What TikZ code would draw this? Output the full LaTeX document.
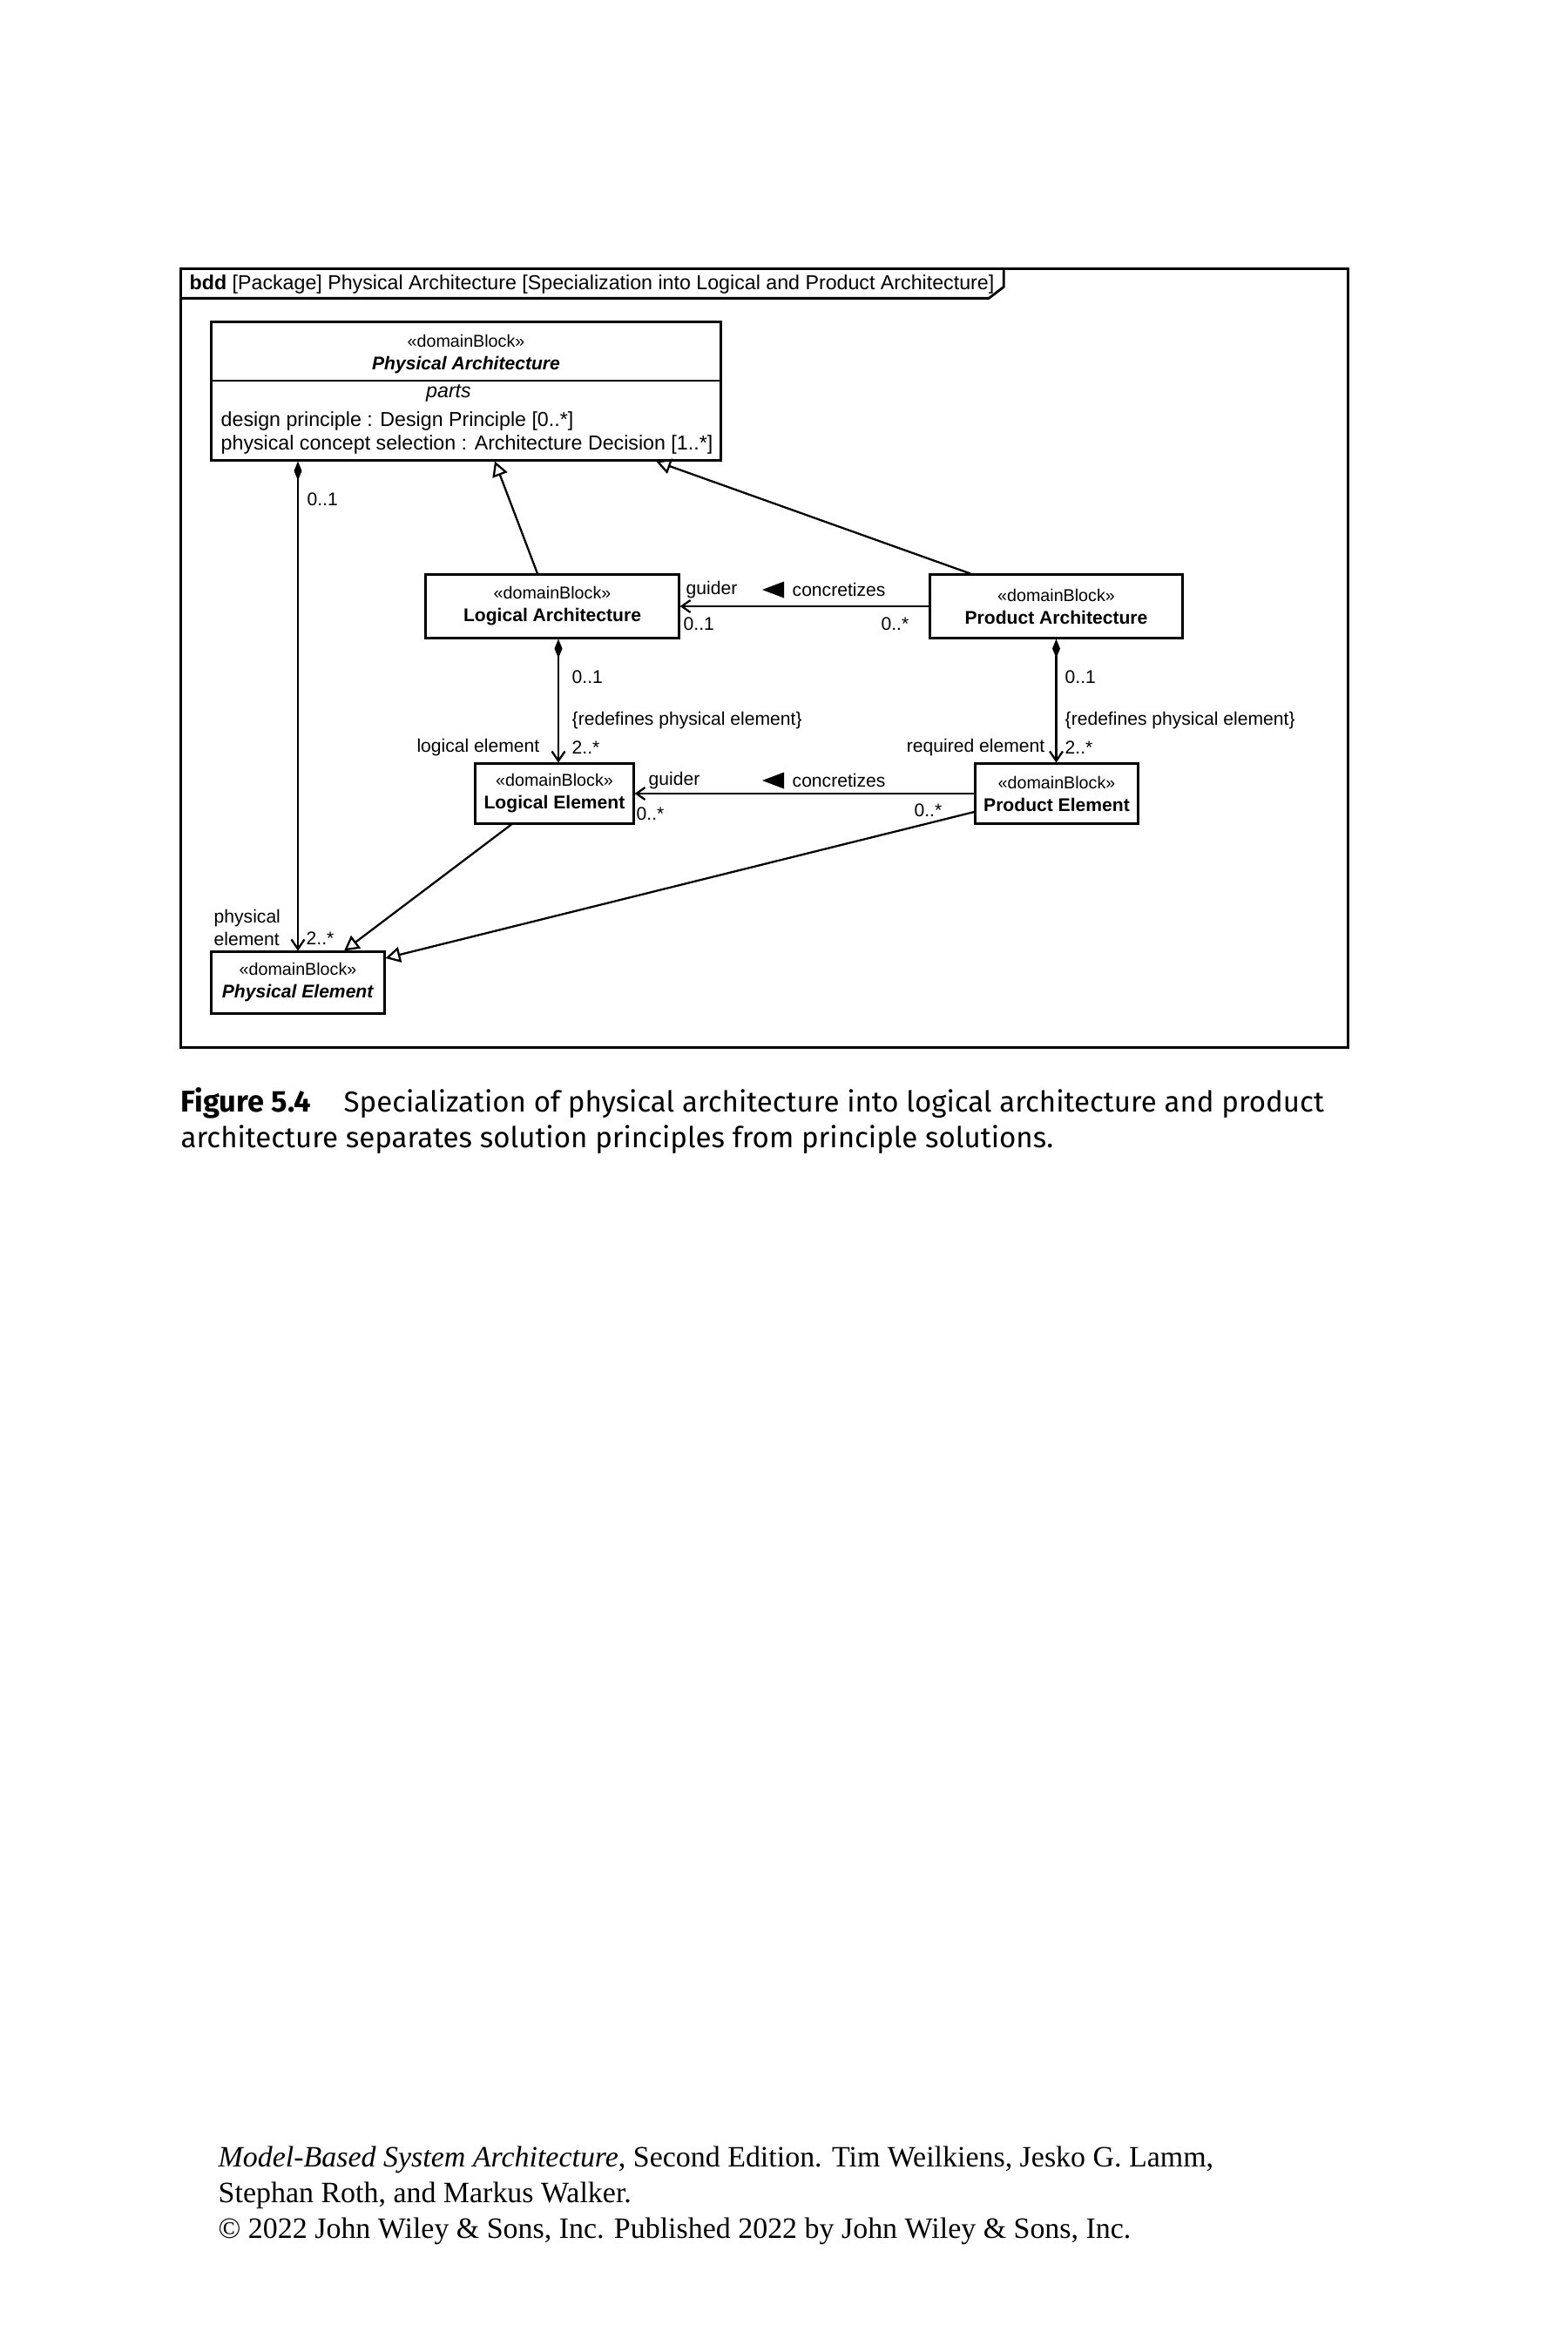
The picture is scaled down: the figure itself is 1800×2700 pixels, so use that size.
\documentclass[tikz,border=0pt]{standalone}
\usepackage{fontspec}
\setmainfont{Liberation Sans}
\newfontfamily\capfont{Fira Sans}
\newfontfamily\bookfont{Liberation Serif}
\usetikzlibrary{arrows.meta, positioning, calc}
\newcommand{\stereo}{{\fontsize{5.6}{7.4}\selectfont «domainBlock»}}

\begin{document}
\begin{tikzpicture}[
      x=0.01cm, y=-0.01cm,
      block/.style={draw, line width=0.85pt, align=center, inner sep=0pt,
                    font=\fontsize{6}{7.4}\selectfont},
      lbl/.style={font=\fontsize{6}{7.4}\selectfont, inner sep=0pt},
      attr/.style={font=\fontsize{6.6}{7.7}\selectfont, inner sep=0pt, anchor=base west},
      comp/.style={{Diamond[length=2.2mm,width=0.9mm]}-{Straight Barb[length=1.1mm,width=1.5mm]},
                   line width=0.65pt},
      nav/.style={-{Straight Barb[length=1mm,width=1.4mm]}, line width=0.65pt},
      gen/.style={-{Triangle[open,length=1.7mm,width=1.8mm]}, line width=0.65pt}
    ]
      \useasboundingbox (0,0) rectangle (1800,2700);

      % frame
      \node[draw, line width=0.8pt, minimum width=13.39cm, minimum height=8.93cm,
            inner sep=0pt] (frame) at (877.5,755.5) {};
      \node[lbl, font=\fontsize{6.6}{8}\selectfont, anchor=west] (title) at (217,326)
        {\textbf{bdd} [Package] Physical Architecture [Specialization into Logical and Product Architecture]};
      \draw[line width=0.8pt] ([yshift=-0.35cm]frame.north west) -- ++(929,0) -- ++(17,-13) -- ++(0,-22);

      % blocks
      \node[block, minimum width=5.84cm, minimum height=1.58cm] (pa) at (535,449) {};
      \node[lbl, align=center] (pahead) at (535,407) {\stereo\\\textbf{\textit{Physical Architecture}}};
      \draw[line width=0.85pt] (pa.west |- 0,437) -- (pa.east |- 0,437);
      \node[lbl, font=\fontsize{6.6}{7.7}\selectfont\itshape] (parts) at (515,451) {parts};
      \node[attr] (pattr1) at (253,489) {design principle : Design Principle [0..*]};
      \node[attr] (pattr2) at (253,516) {physical concept selection : Architecture Decision [1..*]};

      \node[block, minimum width=2.90cm, minimum height=0.72cm] (la) at (634,696)
        {\stereo\\\textbf{Logical Architecture}};
      \node[block, minimum width=2.89cm, minimum height=0.72cm] (pra) at (1212.5,696)
        {\stereo\\\textbf{Product Architecture}};
      \node[block, minimum width=1.81cm, minimum height=0.68cm] (le) at (636.5,911)
        {\stereo\\\textbf{Logical Element}};
      \node[block, minimum width=1.86cm, minimum height=0.68cm] (pre) at (1213,911)
        {\stereo\\\textbf{Product Element}};
      \node[block, minimum width=1.98cm, minimum height=0.70cm] (pe) at (342,1128)
        {\stereo\\\textbf{\textit{Physical Element}}};

      % connectors
      \draw[comp] (pa.south -| pe.north) -- (pe.north);
      \draw[gen] ([xshift=-0.17cm]la.north) -- ([xshift=0.33cm]pa.south);
      \draw[gen] ([xshift=-0.985cm]pra.north) -- ([xshift=2.18cm]pa.south);
      \draw[nav] (pra.west) -- (la.east);
      \draw[comp] ([xshift=0.07cm]la.south) -- ([xshift=0.07cm]la.south |- le.north);
      \draw[comp] (pra.south) -- (pra.south |- pre.north);
      \draw[nav] (pre.west) -- (le.east);
      \draw[gen] ([xshift=-0.495cm]le.south) -- ([xshift=0.53cm]pe.north);
      \draw[gen] ([yshift=-0.21cm]pre.west) -- ([yshift=0.28cm]pe.east);

      % end labels
      \node[lbl, anchor=west] (pam) at (352,573) {0..1};
      \node[lbl, anchor=west, align=left] (pename) at (245,1065) {physical\\element};
      \node[lbl, anchor=west] (pem) at (351,1077) {2..*};

      \node[lbl, anchor=west] (guider1) at (787,677) {guider};
      \node[lbl, anchor=west] (lam) at (784,716) {0..1};
      \node[lbl, anchor=east] (pram) at (1044,716) {0..*};
      \node[lbl, anchor=west] (conc1) at (909,677) {concretizes};
      \fill ([shift={(-9,-9.5)}]conc1.west) -- ++(-25,9.5) -- ++(25,9.5) -- cycle;

      \node[lbl, anchor=west] (lam2) at (656,777) {0..1};
      \node[lbl, anchor=west] (ledef) at (656,827) {\{redefines physical element\}};
      \node[lbl, anchor=west] (lem) at (656,858) {2..*};
      \node[lbl, anchor=east] (lename) at (620,858) {logical element};

      \node[lbl, anchor=west] (pram2) at (1222,777) {0..1};
      \node[lbl, anchor=west] (predef) at (1222,827) {\{redefines physical element\}};
      \node[lbl, anchor=west] (prem) at (1222,858) {2..*};
      \node[lbl, anchor=east] (prename) at (1200,858) {required element};

      \node[lbl, anchor=west] (guider2) at (744,896) {guider};
      \node[lbl, anchor=west] (lem2) at (730,934) {0..*};
      \node[lbl, anchor=east] (prem2) at (1082,930) {0..*};
      \node[lbl, anchor=west] (conc2) at (909,896) {concretizes};
      \fill ([shift={(-9,-9.5)}]conc2.west) -- ++(-25,9.5) -- ++(25,9.5) -- cycle;

      % caption
      \node[anchor=base west, inner sep=0pt, font=\capfont\fontsize{9.8}{11.7}\selectfont\bfseries]
        (capfig) at (207,1276) {Figure 5.4};
      \node[anchor=base west, inner sep=0pt, font=\capfont\fontsize{9.4}{11.7}\selectfont]
        (capline1) at (394,1276)
        {Specialization of physical architecture into logical architecture and product};
      \node[anchor=base west, inner sep=0pt, font=\capfont\fontsize{9.4}{11.7}\selectfont]
        (capline2) at (207,1317)
        {architecture separates solution principles from principle solutions.};

      % footer
      \node[anchor=base west, inner sep=0pt, font=\bookfont\fontsize{9.65}{11.7}\selectfont]
        (foot1) at (250,2487)
        {\textit{Model-Based System Architecture}, Second Edition. Tim Weilkiens, Jesko G. Lamm,};
      \node[anchor=base west, inner sep=0pt, font=\bookfont\fontsize{9.65}{11.7}\selectfont]
        (foot2) at (250,2528) {Stephan Roth, and Markus Walker.};
      \node[anchor=base west, inner sep=0pt, font=\bookfont\fontsize{9.65}{11.7}\selectfont]
        (foot3) at (250,2569) {© 2022 John Wiley \& Sons, Inc. Published 2022 by John Wiley \& Sons, Inc.};
    \end{tikzpicture}
\end{document}
